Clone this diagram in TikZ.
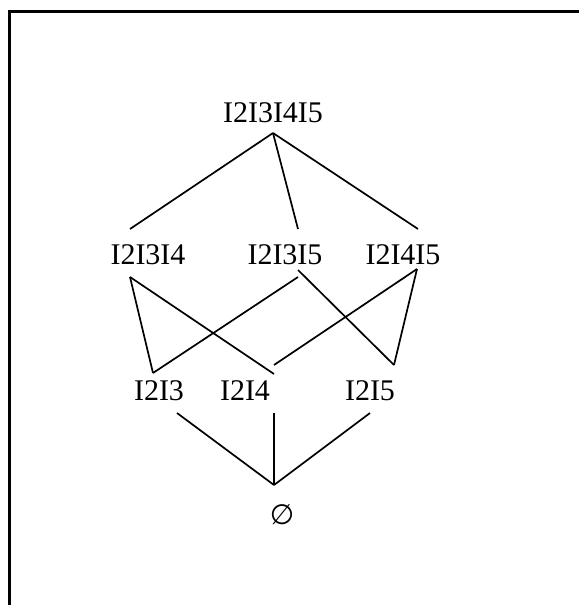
\documentclass[tikz,border=0pt]{standalone}
\usepackage{fontspec}
\setmainfont{Liberation Serif}
\newfontfamily\symfont{DejaVu Sans}
\usepackage{tikz}

\begin{document}
\begin{tikzpicture}[x=1pt,y=-1pt,
  itemset/.style={font=\fontsize{30}{35}\selectfont,inner sep=0pt},
  link/.style={line width=1.7pt}]
  \useasboundingbox (0,0) rectangle (579,605);
  % Frame
  \draw[line width=3pt] (579,11) -- (9,11) -- (9,605);

  % Top set
  \node[itemset] (n2345) at (273,113) {I2I3I4I5};
  \coordinate (n2345-s) at (273,133);
  % Three-item sets
  \node[itemset] (n234) at (148,255) {I2I3I4};
  \node[itemset] (n235) at (285,255) {I2I3I5};
  \node[itemset] (n245) at (403,255) {I2I4I5};
  \coordinate (n234-n) at (130,229);
  \coordinate (n235-n) at (298,229);
  \coordinate (n245-n) at (418,229);
  \coordinate (n234-s) at (130,277);
  \coordinate (n235-sa) at (298,277);
  \coordinate (n235-sb) at (298,270);
  \coordinate (n245-s) at (417,269);
  % Two-item sets
  \node[itemset] (n23) at (159,391) {I2I3};
  \node[itemset] (n24) at (245,391) {I2I4};
  \node[itemset] (n25) at (370,391) {I2I5};
  \coordinate (n23-n) at (153,373);
  \coordinate (n24-na) at (274,374);
  \coordinate (n24-nb) at (274,365);
  \coordinate (n25-n) at (394,365);
  \coordinate (n23-s) at (177,413);
  \coordinate (n24-s) at (274,413);
  \coordinate (n25-s) at (370,413);
  % Empty set
  \node[itemset,font=\symfont\fontsize{28}{33}\selectfont] (empty) at (282,515) {∅};
  \coordinate (empty-n) at (274,485);

  % Links
  \draw[link] (n2345-s) -- (n234-n);
  \draw[link] (n2345-s) -- (n235-n);
  \draw[link] (n2345-s) -- (n245-n);
  \draw[link] (n234-s) -- (n23-n);
  \draw[link] (n234-s) -- (n24-na);
  \draw[link] (n235-sa) -- (n23-n);
  \draw[link] (n235-sb) -- (n25-n);
  \draw[link] (n245-s) -- (n24-nb);
  \draw[link] (n245-s) -- (n25-n);
  \draw[link] (n23-s) -- (empty-n);
  \draw[link] (n24-s) -- (empty-n);
  \draw[link] (n25-s) -- (empty-n);
\end{tikzpicture}
\end{document}
